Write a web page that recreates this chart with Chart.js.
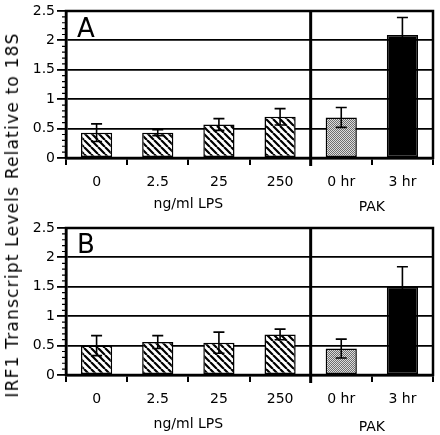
<!DOCTYPE html>
<html>
<head>
<meta charset="utf-8">
<script src="https://cdn.jsdelivr.net/npm/chart.js@4"></script>
<style>
  body { margin: 0; background: #fff; }
  #wrap { position: relative; width: 440px; height: 435px; }
  canvas { position: absolute; left: 0; }
  #ytitle {
    position: absolute; left: 12px; top: 215px;
    transform: translate(-50%, -50%) rotate(-90deg);
    white-space: nowrap; font: 17px "DejaVu Sans", sans-serif; letter-spacing: 1.2px; color: #000;
  }
</style>
</head>
<body>
<div id="wrap">
  <canvas id="chartA" width="440" height="215" style="top:0"></canvas>
  <canvas id="chartB" width="440" height="220" style="top:215px"></canvas>
  <div id="ytitle">IRF1 Transcript Levels Relative to 18S</div>
</div>
<script>
const categories = ['0', '2.5', '25', '250', '0 hr', '3 hr'];
const groupLabels = ['ng/ml LPS', 'PAK'];
const groupRanges = [[0, 3], [4, 5]];
const yTicks = [0, 0.5, 1, 1.5, 2, 2.5];

const valuesA = [0.43, 0.43, 0.57, 0.70, 0.69, 2.09];
const errorsA = [0.15, 0.05, 0.10, 0.14, 0.17, 0.30];
const valuesB = [0.50, 0.56, 0.55, 0.69, 0.45, 1.50];
const errorsB = [0.17, 0.11, 0.18, 0.09, 0.16, 0.34];

const FONT = '"DejaVu Sans", sans-serif';

function hatchPattern() {
  const c = document.createElement('canvas');
  c.width = c.height = 7;
  const g = c.getContext('2d');
  g.fillStyle = '#fff';
  g.fillRect(0, 0, 7, 7);
  g.strokeStyle = '#000';
  g.lineWidth = 2.2;
  g.beginPath();
  for (const o of [-7, 0, 7]) { g.moveTo(o, 0); g.lineTo(o + 7, 7); }
  g.stroke();
  return g.createPattern(c, 'repeat');
}

function stipplePattern() {
  const c = document.createElement('canvas');
  c.width = c.height = 2;
  const g = c.getContext('2d');
  g.fillStyle = '#dcdcdc'; g.fillRect(0, 0, 2, 2);
  g.fillStyle = '#6e6e6e'; g.fillRect(0, 0, 1, 1); g.fillRect(1, 1, 1, 1);
  return g.createPattern(c, 'repeat');
}

const hatch = hatchPattern();
const stipple = stipplePattern();
const barFill = categories.map((c, i) => i < 4 ? hatch : i === 4 ? stipple : '#000');

const panelPlugin = {
  id: 'panel',
  afterDatasetsDraw(chart, args, opts) {
    const { ctx, chartArea: a, scales: { x, y } } = chart;
    const meta = chart.getDatasetMeta(0);
    ctx.save();
    // error bars
    ctx.strokeStyle = '#000';
    ctx.lineWidth = 1.6;
    opts.values.forEach((v, i) => {
      const px = meta.data[i].x;
      const t = y.getPixelForValue(v + opts.errors[i]);
      const b = y.getPixelForValue(v - opts.errors[i]);
      ctx.beginPath();
      ctx.moveTo(px, t); ctx.lineTo(px, b);
      ctx.moveTo(px - 5.5, t); ctx.lineTo(px + 5.5, t);
      ctx.moveTo(px - 5.5, b); ctx.lineTo(px + 5.5, b);
      ctx.stroke();
    });
    // minor ticks
    ctx.lineWidth = 1.2;
    ctx.beginPath();
    for (let k = 1; k < 25; k++) {
      if (k % 5 === 0) continue;
      const py = y.getPixelForValue(k / 10);
      ctx.moveTo(a.left - 4, py); ctx.lineTo(a.left, py);
    }
    ctx.stroke();
    // frame
    ctx.lineWidth = 2.5;
    ctx.strokeRect(a.left, a.top, a.right - a.left, a.bottom - a.top);
    // divider between groups
    const dx = (x.getPixelForValue(groupRanges[0][1]) + x.getPixelForValue(groupRanges[1][0])) / 2;
    ctx.lineWidth = 3;
    ctx.beginPath();
    ctx.moveTo(dx, a.top); ctx.lineTo(dx, a.bottom + 8);
    ctx.stroke();
    // panel letter
    ctx.fillStyle = '#000';
    ctx.font = '26px ' + FONT;
    ctx.textBaseline = 'alphabetic';
    ctx.fillText(opts.letter, a.left + 11, a.top + opts.letterDy);
    // group labels
    ctx.font = '14px ' + FONT;
    ctx.textAlign = 'center';
    ctx.textBaseline = 'middle';
    groupLabels.forEach((g, i) => {
      const [s, e] = groupRanges[i];
      const cx = (x.getPixelForValue(s) + x.getPixelForValue(e)) / 2;
      ctx.fillText(g, cx, a.bottom + opts.groupDy + i * 3);
    });
    ctx.restore();
  }
};

function makeChart(id, values, errors, letter, topPad, xHeight, letterDy, groupDy) {
  return new Chart(document.getElementById(id), {
    type: 'bar',
    data: {
      labels: categories,
      datasets: [{
        data: values,
        backgroundColor: barFill,
        borderColor: '#000',
        borderWidth: 1.5,
        borderSkipped: false,
        categoryPercentage: 1,
        barPercentage: 0.51
      }]
    },
    options: {
      responsive: false,
      animation: false,
      devicePixelRatio: 1,
      layout: { padding: { left: 0, right: 7, top: topPad, bottom: 0 } },
      plugins: {
        legend: { display: false },
        tooltip: { enabled: false },
        panel: { values, errors, letter, letterDy, groupDy }
      },
      scales: {
        x: {
          offset: true,
          afterFit: s => { s.height = xHeight; },
          grid: { offset: true, drawOnChartArea: false, color: '#000', lineWidth: 2, tickLength: 7 },
          border: { color: '#000', width: 2.5 },
          ticks: { color: '#000', font: { family: FONT, size: 14 }, padding: 9, maxRotation: 0 }
        },
        y: {
          min: 0, max: 2.5,
          afterFit: s => { s.width = 66; },
          afterBuildTicks: s => { s.ticks = yTicks.map(v => ({ value: v })); },
          grid: { color: '#000', lineWidth: 1.8, tickLength: 9, tickWidth: 1.8 },
          border: { color: '#000', width: 2.5 },
          ticks: { color: '#000', font: { family: FONT, size: 14 }, padding: 2, callback: v => String(v) }
        }
      }
    },
    plugins: [panelPlugin]
  });
}

makeChart('chartA', valuesA, errorsA, 'A', 11, 57, 26, 46);
makeChart('chartB', valuesB, errorsB, 'B', 13, 60, 25, 49);
</script>
</body>
</html>
